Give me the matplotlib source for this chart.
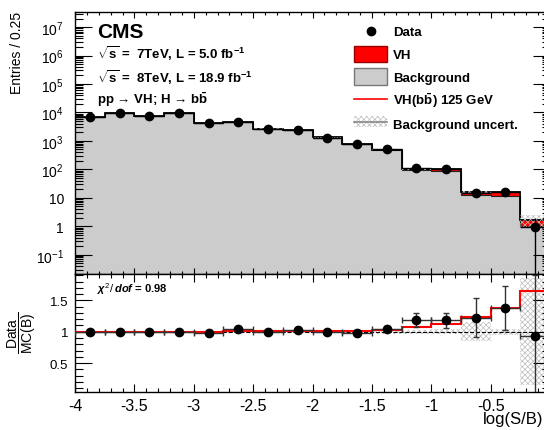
import numpy as np
import matplotlib
matplotlib.use('Agg')
import matplotlib.pyplot as plt
from matplotlib.patches import Rectangle
from matplotlib.lines import Line2D
from matplotlib.ticker import LogLocator, MultipleLocator, FuncFormatter, NullFormatter

plt.rcParams['font.family'] = ['Liberation Sans', 'DejaVu Sans']
plt.rcParams['mathtext.fontset'] = 'custom'
plt.rcParams['mathtext.rm'] = 'Liberation Sans'
plt.rcParams['mathtext.it'] = 'Liberation Sans:italic:bold'
plt.rcParams['mathtext.bf'] = 'Liberation Sans:bold'
plt.rcParams['axes.unicode_minus'] = False
plt.rcParams['hatch.linewidth'] = 0.5

# log(S/B) bins, width 0.25
edges = np.arange(-4.0, 0.01, 0.25)
data = np.array([7000, 9200, 7400, 9200, 4100, 4700, 2700, 2400,
                 1300, 750, 500, 112, 107, 15.3, 15.6, 0.94])
data_err = np.array([84, 96, 86, 96, 64, 69, 52, 49,
                     36, 27, 22, 10.6, 10.3, 3.9, 4.0, 0.97])
bkg = np.array([7000, 9200, 7400, 9290, 4160, 4520, 2700, 2350,
                1306, 765, 476, 94, 90.7, 12.5, 11.3, 1.0])
sig = np.array([10, 14, 14, 20, 14, 18, 14, 14,
                13, 11, 14, 6.6, 10.9, 2.9, 4.2, 0.65])
bkg_unc = np.array([0.01, 0.01, 0.01, 0.01, 0.01, 0.01, 0.01, 0.015,
                    0.015, 0.02, 0.03, 0.03, 0.04, 0.15, 0.05, 0.85])
ytick_vals = [1e-1, 1, 10, 1e2, 1e3, 1e4, 1e5, 1e6, 1e7]
ytick_labs = ['$10^{-1}$', '1', '10', '$10^{2}$', '$10^{3}$', '$10^{4}$',
              '$10^{5}$', '$10^{6}$', '$10^{7}$']

W, H = 544, 431
def fx(px): return px / W
def fy(py): return 1 - py / H

centers = (edges[:-1] + edges[1:]) / 2
tot = bkg + sig
hatch_col = '#bdbdbd'

fig = plt.figure(figsize=(5.44, 4.31), dpi=100)
ax1 = fig.add_axes([fx(75), fy(275), (550 - 75) / W, (275 - 13) / H])
ax2 = fig.add_axes([fx(75), fy(393), (550 - 75) / W, (393 - 275) / H])

# ---- top panel
ax1.stairs(bkg, edges, baseline=1e-3, fill=True, color='#cccccc', lw=0, zorder=1)
ax1.stairs(tot, edges, baseline=bkg, fill=True, color='red', lw=0, zorder=2)
ax1.stairs(bkg, edges, baseline=None, color='#222222', lw=0.8, zorder=3)
ax1.stairs(tot, edges, baseline=None, color='black', lw=1.3, zorder=3)
ax1.stairs(tot + bkg * bkg_unc, edges, baseline=tot - bkg * bkg_unc, fill=True,
           facecolor='none', edgecolor=hatch_col, hatch='xxxxxx', lw=0, zorder=4)
lo = np.minimum(data_err, data - 1e-3)
ax1.errorbar(centers, data, yerr=[lo, data_err], xerr=0.125, fmt='o', color='black',
             ms=6, lw=1, capsize=0, zorder=5)

ax1.set_yscale('log')
ax1.set_ylim(0.021, 3.4e7)
ax1.set_yticks(ytick_vals, ytick_labs)
ax1.yaxis.set_minor_locator(LogLocator(base=10, subs=np.arange(2, 10), numticks=30))
ax1.yaxis.set_minor_formatter(NullFormatter())

# ---- ratio panel
ax2.stairs(1 + bkg_unc, edges, baseline=1 - bkg_unc, fill=True,
           facecolor='none', edgecolor=hatch_col, hatch='xxxxxx', lw=0, zorder=1)
ax2.axhline(1, color='black', ls='--', lw=0.8, zorder=2)
ax2.stairs(tot / bkg, edges, baseline=None, color='red', lw=1.5, zorder=3)
ax2.errorbar(centers, data / bkg, yerr=data_err / bkg, xerr=0.125, fmt='o', color='black',
             ecolor='#333333', ms=6, lw=1, capsize=2, zorder=5)
ax2.set_ylim(0.04, 1.92)
ax2.set_yticks([0.5, 1, 1.5], ['0.5', '1', '1.5'])
ax2.yaxis.set_minor_locator(MultipleLocator(0.1))

for ax in (ax1, ax2):
    ax.set_xlim(-4, 0)
    ax.xaxis.set_major_locator(MultipleLocator(0.5))
    ax.xaxis.set_minor_locator(MultipleLocator(0.1))
    ax.tick_params(which='both', direction='in', top=True, right=True, width=0.8)
    ax.tick_params(axis='y', which='major', length=12)
    ax.tick_params(axis='y', which='minor', length=6)
    for s in ax.spines.values():
        s.set_linewidth(1.0)

ax1.tick_params(axis='x', which='major', length=4.3, labelbottom=False)
ax1.tick_params(axis='x', which='minor', length=2.2)
ax1.tick_params(axis='y', labelsize=10, pad=8)
ax2.tick_params(axis='x', which='major', length=6, labelsize=11.5, pad=4)
ax2.tick_params(axis='x', which='minor', length=3)
ax2.tick_params(axis='y', labelsize=9.5, pad=5)
ax2.xaxis.set_major_formatter(FuncFormatter(lambda v, p: '' if v > -0.01 else '%g' % v))

# ---- texts
fig.text(fx(17), fy(12), 'Entries / 0.25', rotation=90, ha='center', va='top', fontsize=10)
fig.text(fx(22), fy(333), r'$\dfrac{\mathrm{Data}}{\mathrm{MC(B)}}$', rotation=90,
         ha='center', va='center', fontsize=10)
fig.text(fx(483), fy(412), 'log(S/B)', ha='left', va='top', fontsize=12)

fig.text(fx(97), fy(38.3), 'CMS', fontsize=15, fontweight='bold', va='baseline')
fig.text(fx(97), fy(59.3), r'$\sqrt{\mathbf{s}}$ =  7TeV, L = 5.0 fb$^{\mathbf{-1}}$',
         fontsize=9.5, fontweight='bold', va='baseline')
fig.text(fx(97), fy(83.3), r'$\sqrt{\mathbf{s}}$ =  8TeV, L = 18.9 fb$^{\mathbf{-1}}$',
         fontsize=9.5, fontweight='bold', va='baseline')
fig.text(fx(97), fy(104), r'pp → VH; H → b$\mathbf{\bar{b}}$',
         fontsize=9.5, fontweight='bold', va='baseline')
fig.text(fx(97), fy(293), r'$\chi^{2}/\,dof$ = 0.98', fontsize=8, fontweight='bold', va='baseline')

# ---- legend
fig.add_artist(Line2D([fx(370.5)], [fy(31.7)], marker='o', color='black', ms=6,
                      transform=fig.transFigure))
fig.add_artist(Rectangle((fx(354), fy(62.7)), 33 / W, 16 / H, facecolor='red',
                         edgecolor='#9a0000', lw=1, transform=fig.transFigure))
fig.add_artist(Rectangle((fx(354), fy(86)), 33 / W, 16.7 / H, facecolor='#cccccc',
                         edgecolor='#777777', lw=1, transform=fig.transFigure))
fig.add_artist(Line2D([fx(354), fx(387)], [fy(100), fy(100)], color='red', lw=1.2,
                      transform=fig.transFigure))
fig.add_artist(Rectangle((fx(354), fy(128.3)), 33 / W, 11.6 / H, facecolor='none',
                         edgecolor=hatch_col, hatch='xxxxxx', lw=0, transform=fig.transFigure))
fig.add_artist(Line2D([fx(354), fx(387)], [fy(122.5), fy(122.5)], color='#888888', lw=1.2,
                      transform=fig.transFigure))
leg_labels = ['Data', 'VH', 'Background', r'VH(b$\mathbf{\bar{b}}$) 125 GeV', 'Background uncert.']
leg_base = [36, 59.3, 81.7, 105, 129.3]
for lab, yb in zip(leg_labels, leg_base):
    fig.text(fx(393), fy(yb), lab, fontsize=9.5, fontweight='bold', va='baseline')

fig.savefig('out.png', dpi=100)
